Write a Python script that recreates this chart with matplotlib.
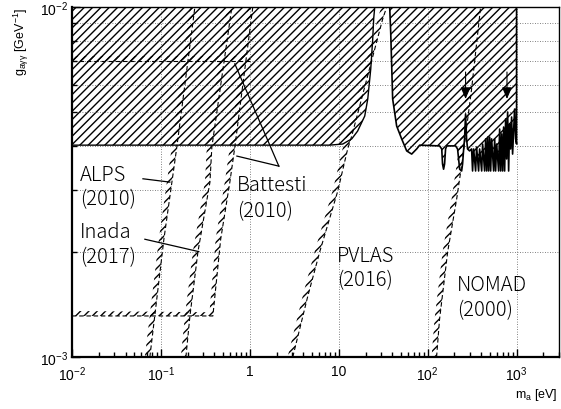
import numpy as np
import matplotlib
matplotlib.use("Agg")
import matplotlib.pyplot as plt
from matplotlib.ticker import LogLocator, NullFormatter

plt.rcParams['font.family'] = ['Liberation Sans', 'DejaVu Sans']
plt.rcParams['hatch.linewidth'] = 1.0
plt.rcParams['mathtext.fontset'] = 'custom'
plt.rcParams['mathtext.rm'] = 'Liberation Sans'
plt.rcParams['mathtext.it'] = 'Liberation Sans:italic'

# ---------------- data ----------------
# big excluded region (left part), lower boundary
left_m = [0.01, 7.9, 11.1, 14.0, 16.3, 19.6, 21.2, 22.9, 24.1, 24.7, 25.4]
left_g = [4.03e-3, 4.03e-3, 4.06e-3, 4.2e-3, 4.42e-3, 4.88e-3, 5.46e-3, 6.65e-3, 8.1e-3, 9.24e-3, 1e-2]

# excluded region (right part), lower boundary
right_m = [37.4, 38.4, 40.4, 44.8, 51.0, 58.1, 66.1, 75.2, 81.3, 136, 144, 147, 151, 155, 159, 164,
           206, 217, 229, 241, 247, 254, 260, 267, 274, 281, 296, 312,
           320, 329, 346, 355, 374, 384, 405, 415, 437, 449, 461, 473, 485, 498, 511, 524,
           552, 567, 581, 597, 628, 645, 662, 679, 697, 715, 734, 753, 773, 793, 814, 835,
           857, 879, 902, 950, 975, 1000, 1000]
right_g = [1e-2, 8.48e-3, 5.46e-3, 4.57e-3, 4.20e-3, 3.88e-3, 3.80e-3, 3.93e-3, 4.03e-3, 4.01e-3,
           3.93e-3, 3.56e-3, 3.44e-3, 3.56e-3, 3.93e-3, 4.01e-3,
           4.01e-3, 3.93e-3, 3.44e-3, 3.40e-3, 3.56e-3, 3.93e-3, 4.20e-3, 4.95e-3, 4.20e-3, 3.93e-3,
           3.88e-3, 3.93e-3,
           3.40e-3, 3.93e-3, 3.40e-3, 3.98e-3, 3.40e-3, 3.93e-3, 3.40e-3, 4.06e-3, 3.40e-3, 4.20e-3,
           3.40e-3, 4.25e-3, 3.40e-3, 4.25e-3, 3.40e-3, 4.20e-3,
           3.40e-3, 4.20e-3, 3.40e-3, 4.06e-3, 3.40e-3, 4.48e-3, 3.40e-3, 4.34e-3, 3.40e-3, 4.54e-3,
           3.40e-3, 4.79e-3, 3.68e-3, 5.01e-3, 3.40e-3, 4.63e-3,
           3.93e-3, 4.85e-3, 3.80e-3, 5.11e-3, 4.20e-3, 4.06e-3, 1e-2]

# limit curves of other experiments
alps_m = [0.0751, 0.108, 0.151, 0.241]
alps_g = [1e-3, 2.17e-3, 3.98e-3, 1e-2]

inada_m = [0.191, 0.212, 0.261, 0.356, 0.374, 0.628]
inada_g = [1e-3, 1.31e-3, 2.0e-3, 3.16e-3, 3.98e-3, 1e-2]

battesti_m = [0.01, 0.384, 0.47, 0.596, 0.678, 1.08]
battesti_g = [1.31e-3, 1.31e-3, 2.17e-3, 3.16e-3, 3.98e-3, 1e-2]

battesti2_m = [0.01, 1.0]
battesti2_g = [7.01e-3, 7.01e-3]

pvlas_m = [3.04, 4.48, 6.12, 9.75, 12.6, 14.0, 31.2, 34.6]
pvlas_g = [1e-3, 1.49e-3, 2.0e-3, 2.98e-3, 3.93e-3, 4.28e-3, 9.24e-3, 1e-2]

nomad_m = [126, 136, 168, 212, 247, 312, 394]
nomad_g = [1e-3, 1.28e-3, 2.0e-3, 2.83e-3, 3.68e-3, 5.83e-3, 1e-2]

arrow_m = [267, 780]
arrow_g_start = 6.52e-3
arrow_g_end = 5.46e-3

xtick_vals = [0.01, 0.1, 1, 10, 100, 1000]
xtick_labels = [r'$\mathdefault{10^{-2}}$', r'$\mathdefault{10^{-1}}$', '1', '10',
                r'$\mathdefault{10^{2}}$', r'$\mathdefault{10^{3}}$']
ytick_vals = [1e-3, 1e-2]
ytick_labels = [r'$\mathdefault{10^{-3}}$', r'$\mathdefault{10^{-2}}$']

labels = [("ALPS", "(2010)", 0.0123, 3.20e-3, 2.74e-3),
          ("Inada", "(2017)", 0.0123, 2.20e-3, 1.87e-3),
          ("Battesti", "(2010)", 0.715, 3.00e-3, 2.53e-3),
          ("PVLAS", "(2016)", 9.49, 1.88e-3, 1.60e-3),
          ("NOMAD", "(2000)", 212, 1.55e-3, 1.32e-3)]

pointers = [((0.0628, 3.23e-3), (0.126, 3.16e-3)),
            ((0.066, 2.17e-3), (0.267, 2.0e-3)),
            ((0.715, 3.75e-3), (2.12, 3.51e-3)),
            ((2.12, 3.51e-3), (0.678, 6.88e-3))]

# ---------------- figure ----------------
fig = plt.figure(figsize=(5.61, 4.10), dpi=100)
ax = fig.add_axes([72/561, 1-358/410, (559-72)/561, (358-8)/410])
ax.set_xscale('log')
ax.set_yscale('log')
ax.set_xlim(0.01, 3000)
ax.set_ylim(1e-3, 1e-2)

# grid
ax.set_xticks(xtick_vals, labels=xtick_labels)
ax.set_yticks(ytick_vals, labels=ytick_labels)
ax.xaxis.set_minor_locator(LogLocator(base=10, subs=range(2, 10), numticks=20))
ax.yaxis.set_minor_locator(LogLocator(base=10, subs=range(2, 10), numticks=20))
ax.xaxis.set_minor_formatter(NullFormatter())
ax.yaxis.set_minor_formatter(NullFormatter())
ax.grid(which='major', axis='x', linestyle=(0, (1, 2)), color='0.35', lw=0.6)
ax.grid(which='minor', axis='y', linestyle=(0, (1, 2)), color='0.35', lw=0.6)
ax.tick_params(which='both', direction='in', top=False, right=False, labelsize=10, width=1)
ax.tick_params(which='major', length=6)
ax.tick_params(which='minor', length=3.5)
ax.tick_params(axis='x', pad=5)
ax.tick_params(axis='y', pad=3)
for s in ax.spines.values():
    s.set_linewidth(1.0)
ax.spines['left'].set_linewidth(1.6)
ax.spines['bottom'].set_linewidth(1.6)

HATCH = '////'

# main excluded regions
poly_m = [0.01] + left_m
poly_g = [1e-2] + left_g
ax.fill(poly_m, poly_g, facecolor='none', edgecolor='k', hatch=HATCH, lw=0, zorder=1)
ax.plot(left_m, left_g, color='k', lw=1.0, zorder=3)
ax.fill(right_m, right_g, facecolor='none', edgecolor='k', hatch=HATCH, lw=0, zorder=1)
ax.plot(right_m, right_g, color='k', lw=1.2, zorder=3)


def hatched_curve(m, g, width_px=5, lw=0.8):
    pts = ax.transData.transform(np.column_stack([m, g]))
    d = np.diff(pts, axis=0)
    ln = np.hypot(d[:, 0], d[:, 1])[:, None]
    n = np.column_stack([-d[:, 1], d[:, 0]]) / ln
    vn = np.vstack([n[0], (n[:-1] + n[1:]) / 2, n[-1]])
    vn /= np.hypot(vn[:, 0], vn[:, 1])[:, None]
    off = pts + vn * width_px
    poly = np.vstack([pts, off[::-1]])
    pd_ = ax.transData.inverted().transform(poly)
    ax.fill(pd_[:, 0], pd_[:, 1], facecolor='none', edgecolor='k', hatch=HATCH, lw=0, zorder=2)
    ax.plot(m, g, color='k', lw=lw, linestyle=(0, (4, 2.5)), zorder=2)


for cm, cg in [(alps_m, alps_g), (inada_m, inada_g), (battesti_m, battesti_g),
               (pvlas_m, pvlas_g), (nomad_m, nomad_g), (battesti2_m, battesti2_g)]:
    hatched_curve(cm, cg)

# arrows
for am in arrow_m:
    ax.annotate('', xy=(am, arrow_g_end), xytext=(am, arrow_g_start),
                arrowprops=dict(arrowstyle='-|>,head_length=0.7,head_width=0.3',
                                color='k', lw=0.8, shrinkA=0, shrinkB=0, mutation_scale=10),
                zorder=4)

# labels
for l1, l2, xm, y1, y2 in labels:
    for txt, yy in [(l1, y1), (l2, y2)]:
        ax.text(xm, yy, txt, fontsize=14.5, family=['Noto Sans CJK JP', 'DejaVu Sans'],
                fontweight='light', ha='left', va='baseline', zorder=5)

for (x0, y0), (x1, y1) in pointers:
    ax.plot([x0, x1], [y0, y1], color='k', lw=0.9, zorder=4)

# axis titles
fig.text(21/561, 1-8/410, r'$\mathdefault{g_{a\gamma\gamma}}$ [GeV$^{\mathdefault{-1}}$]',
         rotation=90, ha='center', va='top', fontsize=9)
fig.text(558/561, 1-395/410, r'$\mathdefault{m_{a}}$ [eV]', ha='right', va='center', fontsize=9)

fig.savefig('out.png', dpi=100)
